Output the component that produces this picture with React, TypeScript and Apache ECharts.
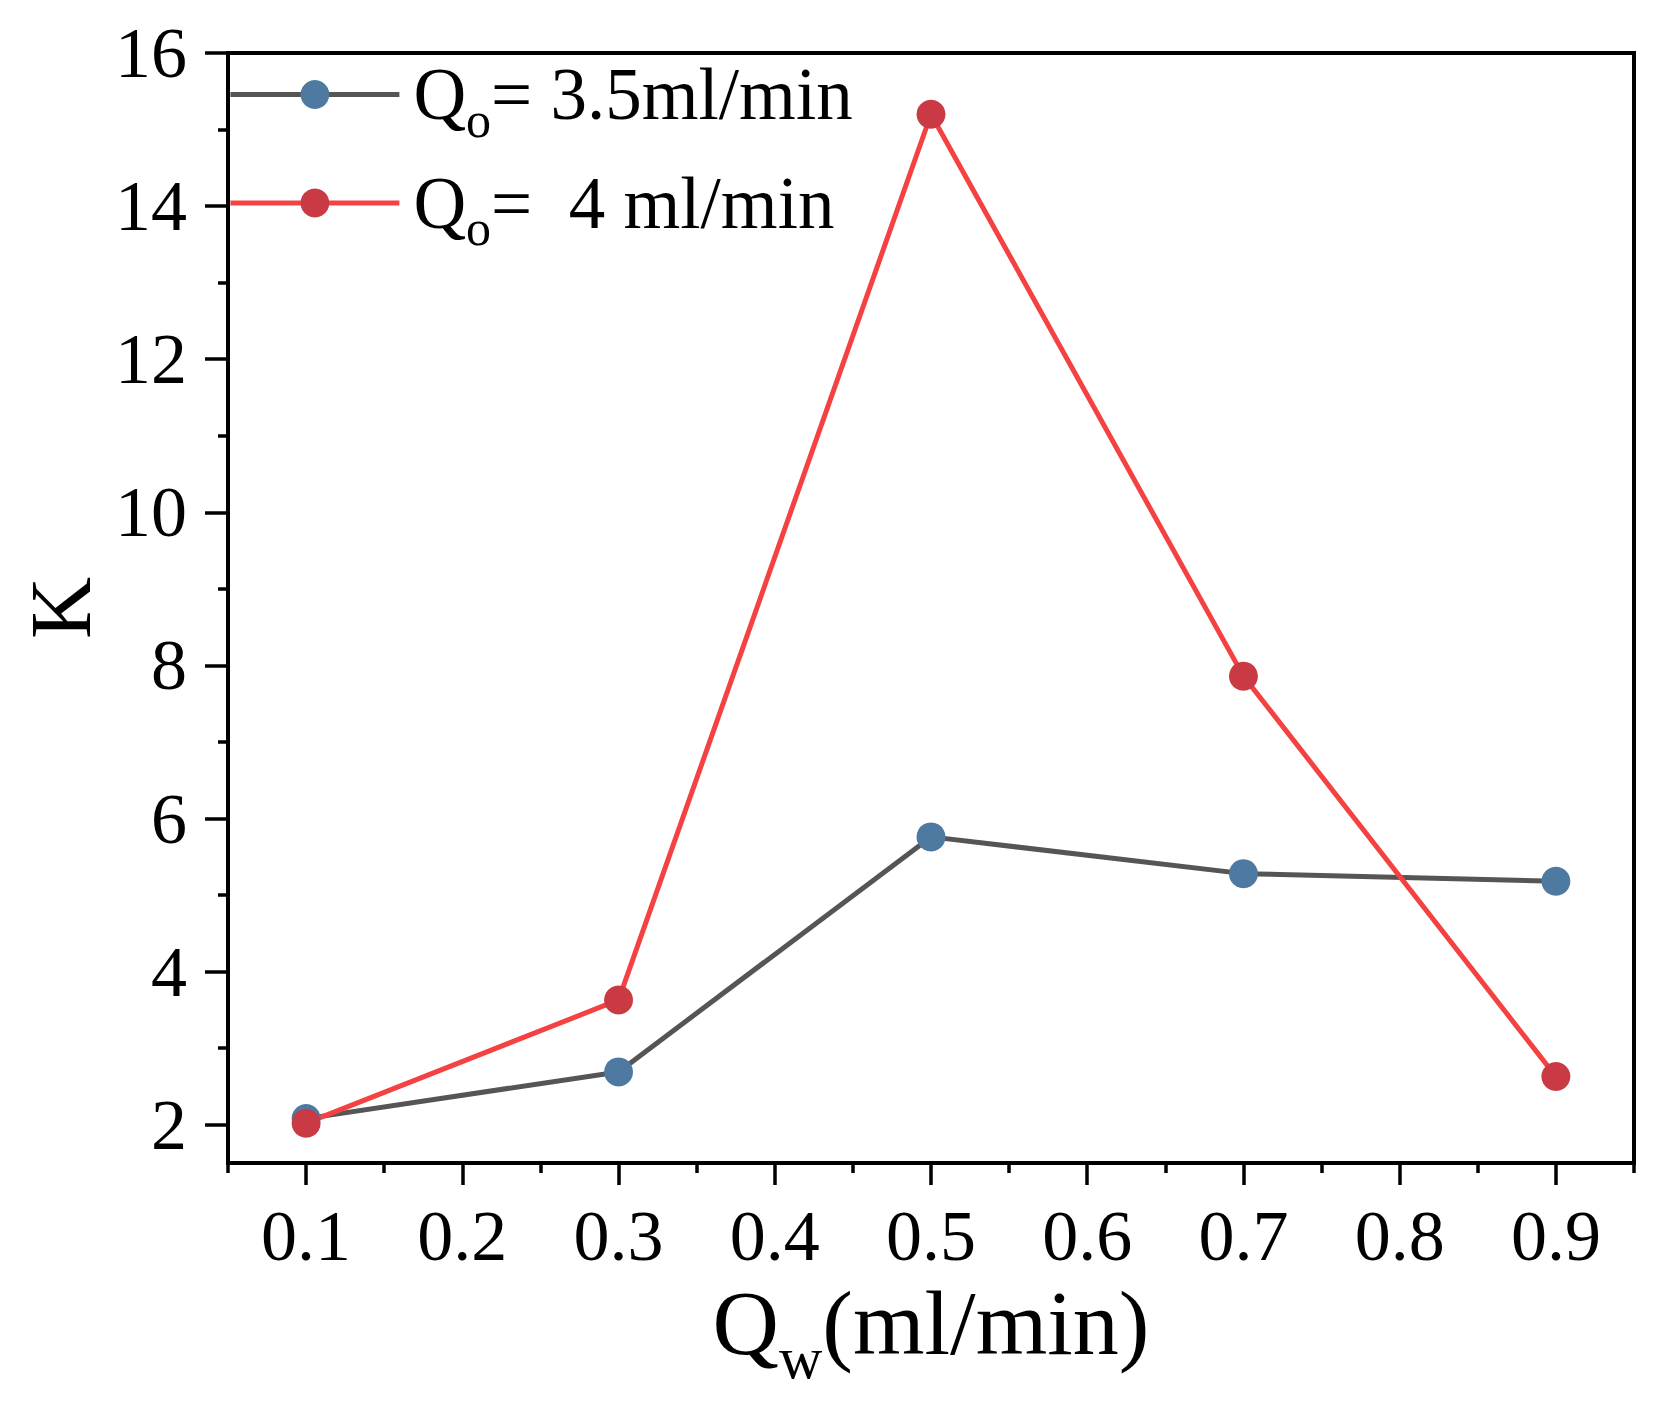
import React, { useEffect, useRef } from "react";
import * as echarts from "echarts";

const xValues = [0.1, 0.3, 0.5, 0.7, 0.9];
const kQo35 = [2.08, 2.69, 5.76, 5.28, 5.18];
const kQo4 = [2.02, 3.63, 15.2, 7.86, 2.63];
const seriesNames = ["Qo= 3.5ml/min", "Qo=  4 ml/min"];
const legendTexts = ["= 3.5ml/min", "=  4 ml/min"];
const xMajorTicks = [0.1, 0.2, 0.3, 0.4, 0.5, 0.6, 0.7, 0.8, 0.9];
const xMinorTicks = [0.05, 0.15, 0.25, 0.35, 0.45, 0.55, 0.65, 0.75, 0.85, 0.95];
const yMajorTicks = [2, 4, 6, 8, 10, 12, 14, 16];
const yMinorTicks = [3, 5, 7, 9, 11, 13, 15];

const FONT = "'Liberation Serif', 'Times New Roman', serif";

export default function App() {
  const ref = useRef<HTMLDivElement>(null);
  useEffect(() => {
    if (!ref.current) return;
    const chart = echarts.init(ref.current, undefined, { renderer: "svg" });
    const axisLineStyle = { color: "#000", width: 4 };
    const option: any = {
      animation: false,
      backgroundColor: "#fff",
      grid: {
        left: 228,
        right: 27,
        top: 53,
        bottom: 247,
        show: true,
        borderColor: "#000",
        borderWidth: 4,
        backgroundColor: "transparent",
      },
      legend: {
        orient: "vertical",
        left: 228,
        top: 58,
        padding: 0,
        itemWidth: 169,
        itemHeight: 36,
        itemGap: 22,
        lineStyle: { width: 4.8 },
        data: seriesNames,
        formatter: (name: string) => {
          const i = seriesNames.indexOf(name);
          return "{q0|Q}{s|o}{q|" + legendTexts[i] + "}";
        },
        textStyle: {
          color: "#000",
          fontFamily: FONT,
          fontSize: 73,
          rich: {
            q0: { fontSize: 73, fontFamily: FONT, color: "#000", lineHeight: 100, padding: [0, 0, 0, 9] },
            q: { fontSize: 73, fontFamily: FONT, color: "#000", lineHeight: 100 },
            s: { fontSize: 50, fontFamily: FONT, color: "#000", lineHeight: 100, verticalAlign: "bottom" },
          },
        },
      },
      xAxis: [
        {
          type: "value",
          min: 0.05,
          max: 0.95,
          position: "bottom",
          axisLine: { show: true, onZero: false, lineStyle: axisLineStyle },
          axisTick: { show: true, customValues: xMajorTicks, length: 22, lineStyle: { color: "#000", width: 3.5 } },
          axisLabel: {
            customValues: xMajorTicks,
            formatter: (v: number) => v.toFixed(1),
            margin: 37,
            fontSize: 72,
            fontFamily: FONT,
            color: "#000",
          },
          splitLine: { show: false },
          name: "{q|Q}{s|w}{q|(ml/min)}",
          nameLocation: "middle",
          nameGap: 86,
          nameTextStyle: {
            fontFamily: FONT,
            fontSize: 92,
            color: "#000",
            rich: {
              q: { fontSize: 92, fontFamily: FONT, color: "#000", lineHeight: 130 },
              s: { fontSize: 60, fontFamily: FONT, color: "#000", lineHeight: 130, verticalAlign: "bottom" },
            },
          },
        },
        {
          type: "value",
          min: 0.05,
          max: 0.95,
          position: "bottom",
          axisLine: { show: false, onZero: false },
          axisTick: { show: true, customValues: xMinorTicks, length: 10, lineStyle: { color: "#000", width: 3.5 } },
          axisLabel: { show: false },
          splitLine: { show: false },
        },
      ],
      yAxis: [
        {
          type: "value",
          min: 1.5,
          max: 16,
          position: "left",
          axisLine: { show: true, onZero: false, lineStyle: axisLineStyle },
          axisTick: { show: true, customValues: yMajorTicks, length: 23, lineStyle: { color: "#000", width: 3.5 } },
          axisLabel: {
            customValues: yMajorTicks,
            margin: 41,
            fontSize: 72,
            fontFamily: FONT,
            color: "#000",
          },
          splitLine: { show: false },
          name: "K",
          nameLocation: "middle",
          nameGap: 101,
          nameTextStyle: { fontFamily: FONT, fontSize: 86, color: "#000" },
        },
        {
          type: "value",
          min: 1.5,
          max: 16,
          position: "left",
          axisLine: { show: false, onZero: false },
          axisTick: { show: true, customValues: yMinorTicks, length: 10, lineStyle: { color: "#000", width: 3.5 } },
          axisLabel: { show: false },
          splitLine: { show: false },
        },
      ],
      series: [
        {
          name: seriesNames[0],
          type: "line",
          xAxisIndex: 0,
          yAxisIndex: 0,
          data: xValues.map((x, i) => [x, kQo35[i]]),
          symbol: "circle",
          symbolSize: 29,
          lineStyle: { color: "#555555", width: 5 },
          itemStyle: { color: "#4E79A0" },
        },
        {
          name: seriesNames[1],
          type: "line",
          xAxisIndex: 0,
          yAxisIndex: 0,
          data: xValues.map((x, i) => [x, kQo4[i]]),
          symbol: "circle",
          symbolSize: 29,
          lineStyle: { color: "#F44242", width: 5 },
          itemStyle: { color: "#C93A44" },
        },
      ],
    };
    chart.setOption(option);
    return () => chart.dispose();
  }, []);
  return (
    <div
      ref={ref}
      style={{ position: "absolute", left: 0, top: 0, width: 1661, height: 1410 }}
    />
  );
}
